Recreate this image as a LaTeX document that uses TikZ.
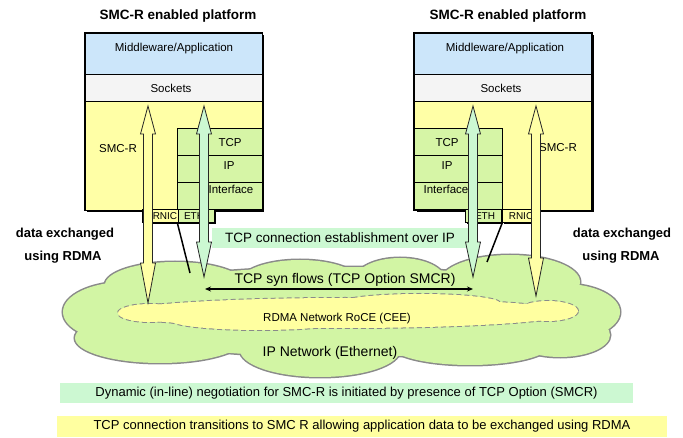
\documentclass[tikz,border=0pt]{standalone}
\usepackage{fontspec}
\setmainfont{Liberation Sans}
\usetikzlibrary{arrows.meta,shadows}

\definecolor{appblue}{HTML}{CCE6FA}
\definecolor{sockgrey}{HTML}{F4F4F4}
\definecolor{smcyellow}{HTML}{FFFFA6}
\definecolor{stackgreen}{HTML}{D6F5A6}
\definecolor{mint}{HTML}{CCF8D2}
\definecolor{cloudgreen}{HTML}{D2F5A4}
\definecolor{roceyellow}{HTML}{FFFFA0}
\definecolor{cloudline}{HTML}{8A8A8A}

% double-headed block arrow: x, y top, y bottom, lower head length, fill
\newcommand\blockarrow[5]{%
  \draw[arrowedge, fill=#5]
    (#1-4.5,#2+28) -- (#1-7.5,#2+28) -- (#1,#2) -- (#1+7.5,#2+28) -- (#1+4.5,#2+28)
    -- (#1+4.5,#3-#4) -- (#1+7.5,#3-#4) -- (#1,#3) -- (#1-7.5,#3-#4) -- (#1-4.5,#3-#4) -- cycle;}

\begin{document}
\begin{tikzpicture}[x=1pt,y=-1pt,
  platform/.style={draw=black, line width=1.2pt, inner sep=0pt, minimum width=177pt, minimum height=177pt,
    drop shadow={shadow xshift=2pt, shadow yshift=-2pt, opacity=1, fill=black}},
  band/.style={draw=black, line width=0.8pt, inner sep=0pt, minimum width=177pt},
  stackrow/.style={draw=black, line width=1pt, fill=stackgreen, inner sep=0pt, minimum height=27.33pt},
  nicbox/.style={draw=black, line width=1pt, inner sep=0pt, minimum width=36pt, minimum height=13pt,
    drop shadow={shadow xshift=1.5pt, shadow yshift=-1.5pt, opacity=1, fill=black}},
  lbl/.style={inner sep=0pt, font=\fontsize{11.5}{13}\selectfont},
  nictext/.style={inner sep=0pt, font=\fontsize{10}{11}\selectfont},
  ttl/.style={inner sep=0pt, font=\bfseries\fontsize{13.5}{15}\selectfont},
  sidetext/.style={inner sep=0pt, font=\bfseries\fontsize{13}{15}\selectfont},
  netlbl/.style={inner sep=0pt, font=\fontsize{14}{16}\selectfont},
  noteband/.style={inner sep=0pt, font=\fontsize{13}{15}\selectfont},
  arrowedge/.style={draw=black!85, line width=0.8pt, line join=miter},
  cloudedge/.style={draw=cloudline, line width=3pt},
  rocedge/.style={draw=cloudline, line width=2pt, dashed, dash pattern=on 5pt off 3pt},
]
\useasboundingbox (0,0) rectangle (683,438);

% ---------- IP network cloud (union of lobes) ----------
\def\cloudlobes{340/312/265/45, 125/312/62/30, 175/285/70/23, 300/282/60/22, 400/280/45/22,
  510/282/70/27, 565/312/55/28, 160/338/85/25, 320/350/80/27, 470/345/80/20, 560/335/50/22}
\foreach \cx/\cy/\rx/\ry in \cloudlobes
  \draw[cloudedge] (\cx,\cy) ellipse [x radius=\rx pt, y radius=\ry pt];
\foreach \cx/\cy/\rx/\ry in \cloudlobes
  \fill[cloudgreen] (\cx,\cy) ellipse [x radius=\rx pt, y radius=\ry pt];

% ---------- RDMA network (dashed inner cloud) ----------
\def\rocelobes{345/313/225/15, 150/313/32/9, 548/311/30/10, 260/320/90/10, 420/303/80/9}
\foreach \cx/\cy/\rx/\ry in \rocelobes
  \draw[rocedge] (\cx,\cy) ellipse [x radius=\rx pt, y radius=\ry pt];
\foreach \cx/\cy/\rx/\ry in \rocelobes
  \fill[roceyellow] (\cx,\cy) ellipse [x radius=\rx pt, y radius=\ry pt];

\node[inner sep=0pt, font=\fontsize{11.5}{13}\selectfont] (rocelbl) at (337,319) {RDMA Network RoCE (CEE)};
\node[netlbl] (iplbl) at (330,353) {IP Network (Ethernet)};

% ---------- TCP connection band ----------
\node[fill=mint, minimum width=256pt, minimum height=20pt, inner sep=0pt,
  font=\fontsize{13.5}{15}\selectfont] (tcpband) at (340,238) {TCP connection establishment over IP};

% ---------- titles ----------
\node[ttl] (titleL) at (178,16) {SMC-R enabled platform};
\node[ttl] (titleR) at (508,16) {SMC-R enabled platform};

% ---------- left platform ----------
\node[platform] (platL) at (173.5,121.5) {};
\node[band, fill=appblue, minimum height=41pt] (appL) at (173.5,53.5) {};
\node[band, fill=sockgrey, minimum height=27pt] (sockL) at (173.5,87.5) {};
\node[band, fill=smcyellow, minimum height=109pt] (bodyL) at (173.5,155.5) {};
\node[lbl] (appLt) at (174,49) {Middleware/Application};
\node[lbl] (sockLt) at (171,88.5) {Sockets};
\node[lbl] (smcLt) at (118,149) {SMC-R};
\node[stackrow, minimum width=85pt] (tcpL) at (219.5,141.67) {};
\node[stackrow, minimum width=85pt] (ipL) at (219.5,169) {};
\node[stackrow, minimum width=85pt] (ifL) at (219.5,196.33) {};
\node[lbl] (tcpLt) at (230,142.5) {TCP};
\node[lbl] (ipLt) at (229,166) {IP};
\node[lbl] (ifLt) at (231,189.5) {Interface};
\draw[line width=1.2pt] (platL.north west) rectangle (platL.south east);
\node[nicbox, fill=smcyellow] (rnicL) at (160,216.5) {};
\node[nicbox, fill=stackgreen] (ethL) at (196,216.5) {};
\node[nictext] (rnicLt) at (165,216.5) {RNIC};
\node[nictext] (ethLt) at (194,216.5) {ETH};

% ---------- right platform ----------
\node[platform] (platR) at (503,121.5) {};
\node[band, fill=appblue, minimum height=41pt] (appR) at (503,53.5) {};
\node[band, fill=sockgrey, minimum height=27pt] (sockR) at (503,87.5) {};
\node[band, fill=smcyellow, minimum height=109pt] (bodyR) at (503,155.5) {};
\node[lbl] (appRt) at (505,49) {Middleware/Application};
\node[lbl] (sockRt) at (501,88.5) {Sockets};
\node[lbl] (smcRt) at (558,148) {SMC-R};
\node[stackrow, minimum width=88pt] (tcpR) at (458.5,141.67) {};
\node[stackrow, minimum width=88pt] (ipR) at (458.5,169) {};
\node[stackrow, minimum width=88pt] (ifR) at (458.5,196.33) {};
\node[lbl] (tcpRt) at (447,142.5) {TCP};
\node[lbl] (ipRt) at (447,166) {IP};
\node[lbl] (ifRt) at (446,189.5) {Interface};
\draw[line width=1.2pt] (platR.north west) rectangle (platR.south east);
\node[nicbox, fill=stackgreen] (ethR) at (483.5,216.5) {};
\node[nicbox, fill=smcyellow, minimum width=37pt] (rnicR) at (520.5,216.5) {};
\node[nictext] (ethRt) at (485,216.5) {ETH};
\node[nictext] (rnicRt) at (521,216.5) {RNIC};

% ---------- ETH links into the network ----------
\coordinate (lnL) at (190,273);
\coordinate (lnR) at (487,262);
\draw[line width=1.5pt] (ethL.south west) -- (lnL);
\draw[line width=1.5pt] (ethR.south east) -- (lnR);

% ---------- data paths ----------
\blockarrow{148}{106}{303}{40}{smcyellow}
\blockarrow{204}{106}{277}{35}{mint}
\blockarrow{473}{106}{277}{35}{mint}
\blockarrow{536}{106}{296}{38}{smcyellow}

% ---------- TCP syn flows ----------
\coordinate (synL) at (205,289);
\coordinate (synR) at (473,289);
\draw[line width=1.2pt, {Stealth[length=6pt,width=5pt]}-{Stealth[length=6pt,width=5pt]}] (synL) -- (synR);
\node[netlbl] (synlbl) at (345,279.5) {TCP syn flows (TCP Option SMCR)};

% ---------- side notes ----------
\node[sidetext] (dataL) at (65,234) {data exchanged};
\node[sidetext] (rdmaL) at (63,257) {using RDMA};
\node[sidetext] (dataR) at (622,234) {data exchanged};
\node[sidetext] (rdmaR) at (621,257) {using RDMA};

% ---------- bottom notes ----------
\node[noteband, fill=mint, minimum width=573pt, minimum height=20pt] (negband) at (346.5,393)
  {Dynamic (in-line) negotiation for SMC-R is initiated by presence of TCP Option (SMCR)};
\node[noteband, fill=roceyellow, minimum width=610pt, minimum height=21pt] (transband) at (362,426.5)
  {TCP connection transitions to SMC R allowing application data to be exchanged using RDMA};
\end{tikzpicture}
\end{document}
